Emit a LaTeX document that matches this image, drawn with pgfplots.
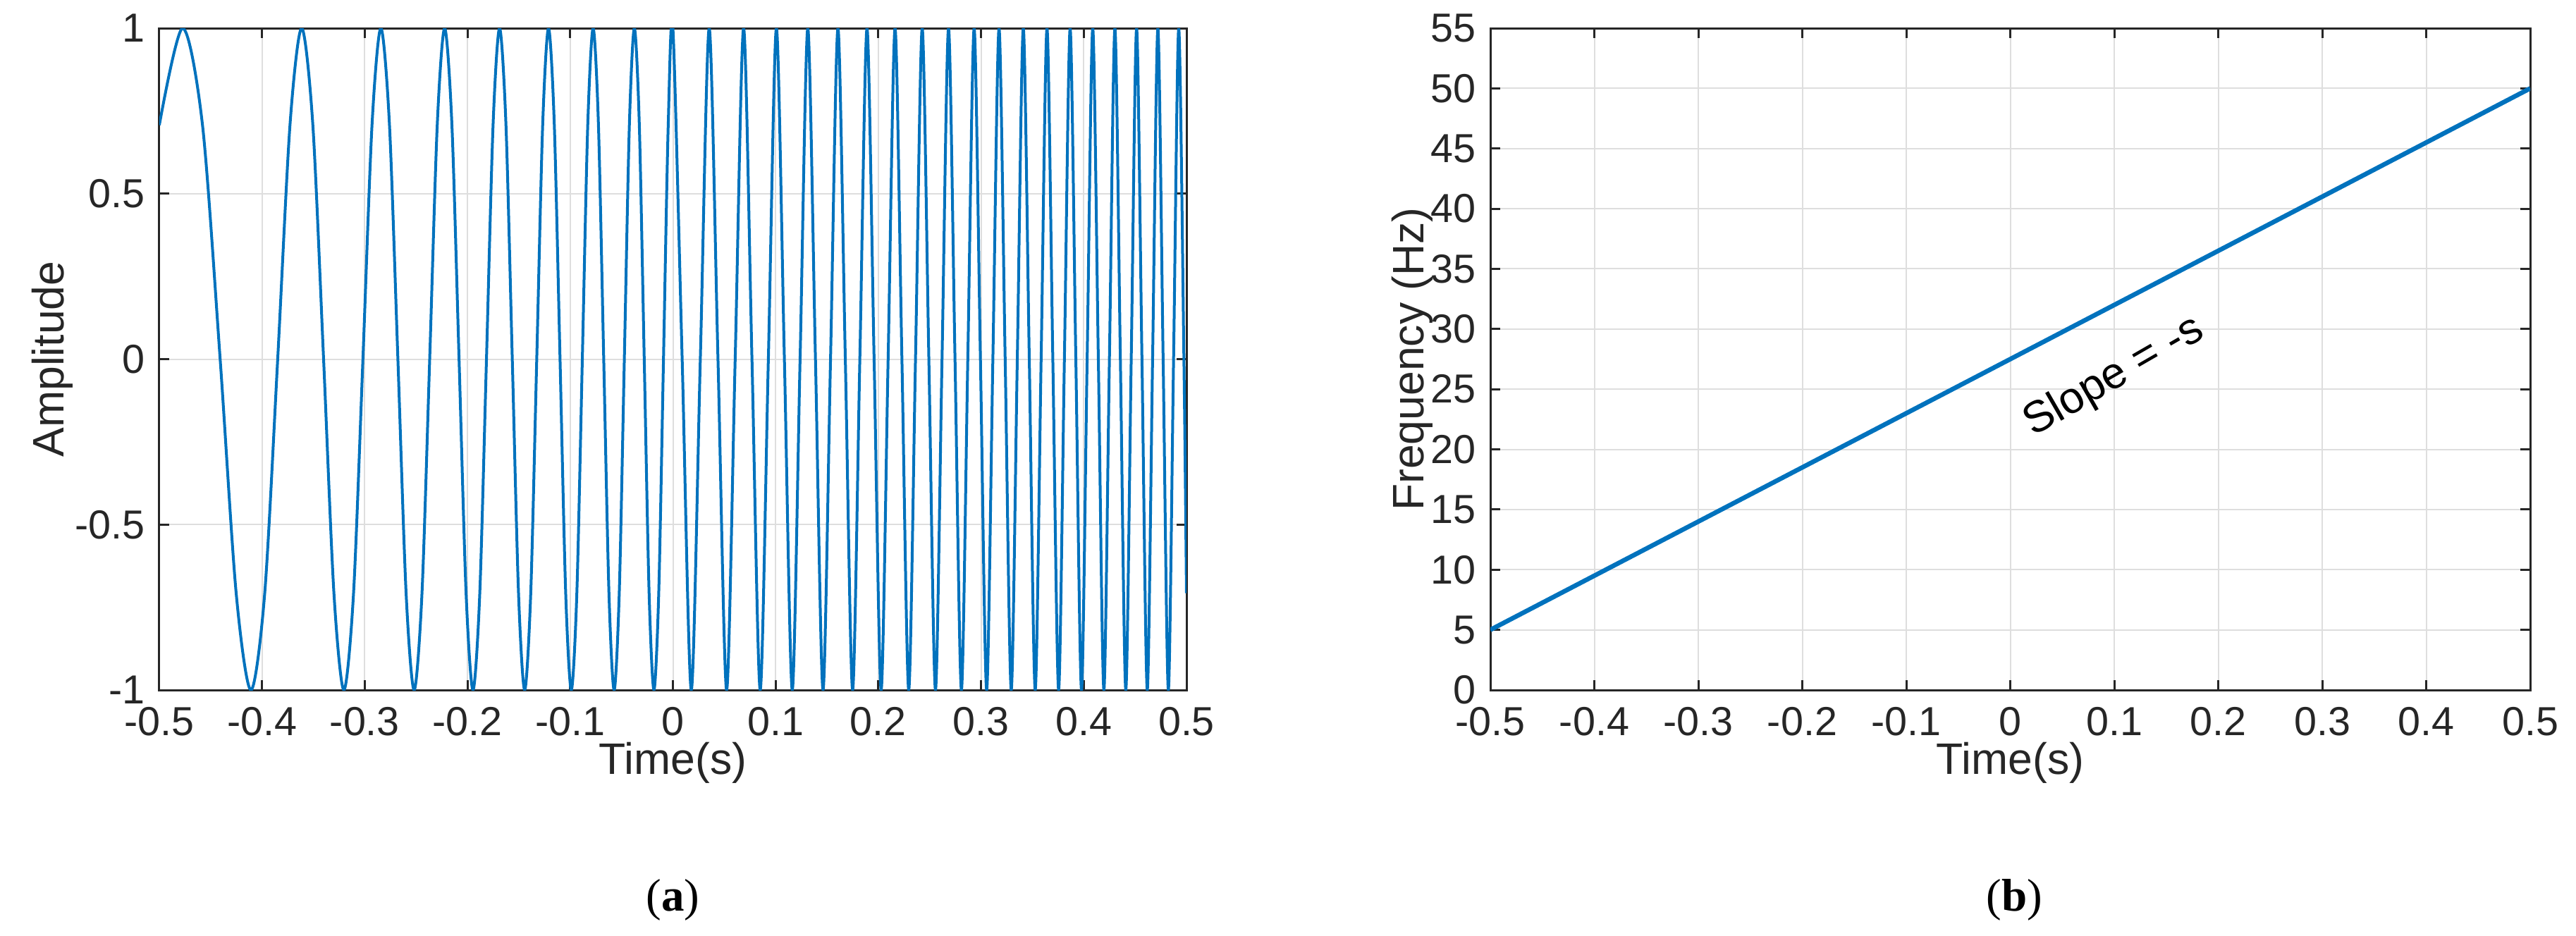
\documentclass[border=0pt]{standalone}
\usepackage{pgfplots}
\pgfplotsset{compat=1.18}
\usepackage{fontspec}
\setmainfont{Liberation Sans}
\newfontfamily\seriffont{Liberation Serif}
\definecolor{mblue}{RGB}{0,114,189}
\definecolor{axisc}{RGB}{38,38,38}
\definecolor{gridc}{RGB}{222,222,222}
\pgfplotsset{mstyle/.style={
  scale only axis,
  axis line style={color=axisc, line width=0.6pt},
  every tick/.style={color=axisc, line width=0.6pt},
  major tick length=2.8pt,
  tick align=inside,
  xtick pos=both, ytick pos=both,
  xticklabel pos=bottom, yticklabel pos=left,
  grid=major,
  major grid style={color=gridc, line width=0.4pt},
  tick label style={font=\fontsize{11.5}{13}\selectfont, text=axisc},
  xticklabel style={yshift=-1.4pt},
  yticklabel style={xshift=-0.6pt},
  label style={font=\fontsize{12.5}{14}\selectfont, text=axisc},
  xtick={-0.5,-0.4,-0.3,-0.2,-0.1,0,0.1,0.2,0.3,0.4,0.5},
  xticklabels={-0.5,-0.4,-0.3,-0.2,-0.1,0,0.1,0.2,0.3,0.4,0.5},
  xmin=-0.5, xmax=0.5,
  xlabel={Time(s)},
  xlabel style={at={(axis description cs:0.5,-0.11)}, anchor=center},
}}
\begin{document}
\begin{tikzpicture}
\useasboundingbox (0pt,0pt) rectangle (730.8pt,-265.4pt);
\begin{axis}[mstyle,
  at={(45.2pt,-8pt)}, anchor=north west,
  width=291.4pt, height=187.8pt,
  ymin=-1, ymax=1,
  ytick={-1,-0.5,0,0.5,1},
  yticklabels={-1,-0.5,0,0.5,1},
  ylabel={Amplitude},
  ylabel style={at={(axis description cs:-0.104,0.5)}, anchor=center},
]
\addplot[mblue, line width=0.8pt, smooth] coordinates {
(-0.5,0.7071) (-0.47732,1) (-0.45796,0.7071) (-0.44078,0) (-0.42519,-0.7071)
(-0.41080,-1) (-0.39738,-0.7071) (-0.38476,0) (-0.37280,0.7071) (-0.36142,1)
(-0.35053,0.7071) (-0.34008,0) (-0.33002,-0.7071) (-0.32031,-1) (-0.31091,-0.7071)
(-0.30179,0) (-0.29294,0.7071) (-0.28432,1) (-0.27593,0.7071) (-0.26774,0)
(-0.25975,-0.7071) (-0.25193,-1) (-0.24428,-0.7071) (-0.23678,0) (-0.22943,0.7071)
(-0.22222,1) (-0.21514,0.7071) (-0.20819,0) (-0.20135,-0.7071) (-0.19463,-1)
(-0.18801,-0.7071) (-0.18150,0) (-0.17508,0.7071) (-0.16875,1) (-0.16252,0.7071)
(-0.15637,0) (-0.15030,-0.7071) (-0.14431,-1) (-0.13840,-0.7071) (-0.13256,0)
(-0.12679,0.7071) (-0.12109,1) (-0.11545,0.7071) (-0.10988,0) (-0.10437,-0.7071)
(-0.09891,-1) (-0.09352,-0.7071) (-0.08818,0) (-0.08290,0.7071) (-0.07766,1)
(-0.07248,0.7071) (-0.06735,0) (-0.06226,-0.7071) (-0.05722,-1) (-0.05223,-0.7071)
(-0.04728,0) (-0.04238,0.7071) (-0.03752,1) (-0.03269,0.7071) (-0.02791,0)
(-0.02317,-0.7071) (-0.01846,-1) (-0.01379,-0.7071) (-0.00916,0) (-0.00456,0.7071)
(0,1) (0.00902,0) (0.01792,-1) (0.02669,0) (0.03534,1) (0.04388,0) (0.05231,-1)
(0.06063,0) (0.06885,1) (0.07697,0) (0.08500,-1) (0.09293,0) (0.10078,1)
(0.10854,0) (0.11622,-1) (0.12382,0) (0.13134,1) (0.13879,0) (0.14616,-1)
(0.15346,0) (0.16069,1) (0.16786,0) (0.17496,-1) (0.18199,0) (0.18897,1)
(0.19588,0) (0.20274,-1) (0.20953,0) (0.21628,1) (0.22296,0) (0.22960,-1)
(0.23618,0) (0.24271,1) (0.24919,0) (0.25563,-1) (0.26201,0) (0.26835,1)
(0.27465,0) (0.28090,-1) (0.28710,0) (0.29327,1) (0.29939,0) (0.30547,-1)
(0.31151,0) (0.31751,1) (0.32348,0) (0.32940,-1) (0.33529,0) (0.34114,1)
(0.34696,0) (0.35274,-1) (0.35849,0) (0.36420,1) (0.36988,0) (0.37553,-1)
(0.38114,0) (0.38673,1) (0.39228,0) (0.39780,-1) (0.40329,0) (0.40875,1)
(0.41419,0) (0.41959,-1) (0.42497,0) (0.43032,1) (0.43564,0) (0.44093,-1)
(0.44620,0) (0.45144,1) (0.45665,0) (0.46184,-1) (0.46701,0) (0.47215,1)
(0.47727,0) (0.48236,-1) (0.48743,0) (0.49247,1) (0.49750,0) (0.5,-0.7071)
};
\end{axis}
\begin{axis}[mstyle,
  at={(422.8pt,-8pt)}, anchor=north west,
  width=295pt, height=187.8pt,
  ymin=0, ymax=55,
  ytick={0,5,10,15,20,25,30,35,40,45,50,55},
  yticklabels={0,5,10,15,20,25,30,35,40,45,50,55},
  ylabel={Frequency (Hz)},
  ylabel style={at={(axis description cs:-0.075,0.5)}, anchor=center},
]
\addplot[mblue, line width=1.3pt] coordinates {(-0.5,5) (0.5,50)};
\node[rotate=30, font=\fontsize{12.5}{14}\selectfont, text=black] at (axis cs:0.1,26.0) {Slope = -s};
\end{axis}
\node[font=\fontsize{13}{15}\selectfont] at (190.9pt,-255.4pt) {\seriffont(\textbf{a})};
\node[font=\fontsize{13}{15}\selectfont] at (571.5pt,-255.4pt) {\seriffont(\textbf{b})};
\end{tikzpicture}
\end{document}
